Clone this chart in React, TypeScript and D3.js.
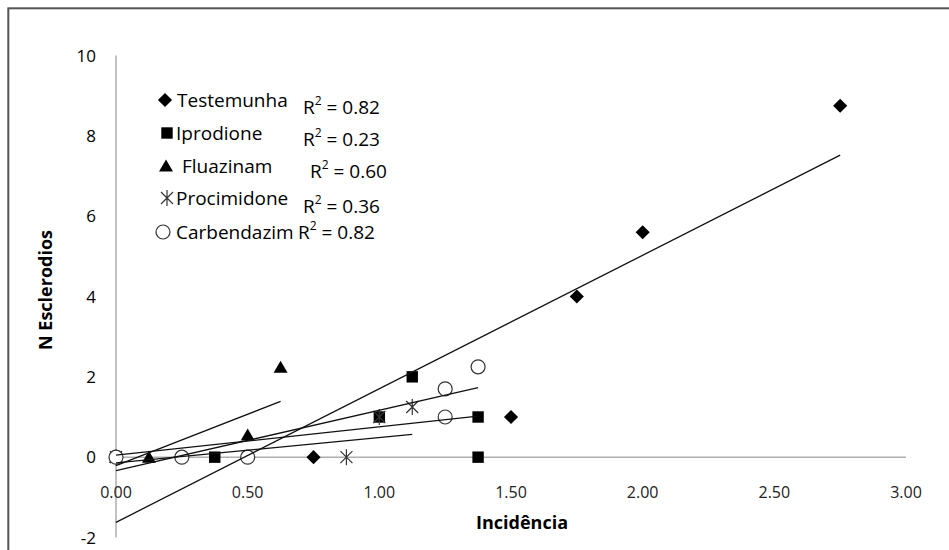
import React, { useRef, useEffect } from 'react';
import * as d3 from 'd3';

// series names and R² values from the legend
const seriesNames = ['Testemunha', 'Iprodione', 'Fluazinam', 'Procimidone', 'Carbendazim'];
const r2Labels = ['0.82', '0.23', '0.60', '0.36', '0.82'];

// points [incidencia, n esclerodios]
const testemunha = [[0, 0], [0.75, 0], [1.5, 1], [1.75, 4], [2.0, 5.6], [2.75, 8.75]];
const iprodione = [[0, 0], [0.375, 0], [1.0, 1], [1.125, 2], [1.375, 1], [1.375, 0]];
const fluazinam = [[0, 0], [0.125, 0], [0.5, 0.55], [0.625, 2.24]];
const procimidone = [[0, 0], [0.875, 0], [1.0, 1], [1.125, 1.25]];
const carbendazim = [[0, 0], [0.25, 0], [0.5, 0], [1.25, 1], [1.25, 1.7], [1.375, 2.25]];

// linear trendlines
const trendSlope = [3.324, 0.706, 2.56, 0.63, 1.505];
const trendIntercept = [-1.622, 0.049, -0.21, -0.14, -0.336];

const xTicks = [0, 0.5, 1, 1.5, 2, 2.5, 3];
const yTicks = [-2, 0, 2, 4, 6, 8, 10];

const allSeries = [testemunha, iprodione, fluazinam, procimidone, carbendazim];
const markerKinds = ['diamond', 'square', 'triangle', 'star', 'circle'];

const FONT = '"Open Sans", "DejaVu Sans", sans-serif';

function drawMarker(g, kind, cx, cy) {
    const m = g.append('g').attr('transform', `translate(${cx},${cy})`);
    if (kind === 'diamond') {
        m.append('path').attr('d', d3.symbol(d3.symbolSquare, 100)()).attr('transform', 'rotate(45)').attr('fill', '#000');
    } else if (kind === 'square') {
        m.append('path').attr('d', d3.symbol(d3.symbolSquare, 130)()).attr('fill', '#000');
    } else if (kind === 'triangle') {
        m.append('path').attr('d', 'M0,-6.5L7,5.5L-7,5.5Z').attr('fill', '#000');
    } else if (kind === 'star') {
        m.append('path').attr('d', 'M-6,-6L6,6M-6,6L6,-6M0,-8L0,8')
            .attr('stroke', '#333').attr('stroke-width', 1.2).attr('fill', 'none');
    } else {
        m.append('circle').attr('r', 7).attr('fill', '#fff').attr('stroke', '#333').attr('stroke-width', 1.2);
    }
}

const App = () => {
    const svgRef = useRef();

    useEffect(() => {
        const svg = d3.select(svgRef.current);
        svg.selectAll('*').remove();

        const x = d3.scaleLinear().domain([0, 3]).range([116, 906]);
        const y = d3.scaleLinear().domain([-2, 10]).range([537.5, 55.5]);

        svg.append('rect').attr('width', 949).attr('height', 550).attr('fill', '#fff');
        // outer frame (right and bottom edges fall outside the picture)
        svg.append('rect')
            .attr('x', 8.3).attr('y', 8.3).attr('width', 960).attr('height', 560)
            .attr('fill', 'none').attr('stroke', '#555').attr('stroke-width', 2);

        // axes
        svg.append('line')
            .attr('x1', x(0)).attr('x2', x(0)).attr('y1', y(10)).attr('y2', y(-2))
            .attr('stroke', '#868686');
        svg.append('line')
            .attr('x1', x(0)).attr('x2', x(3)).attr('y1', y(0)).attr('y2', y(0))
            .attr('stroke', '#868686');

        svg.append('g').selectAll('text').data(yTicks).join('text')
            .attr('x', 96).attr('y', d => y(d)).attr('dy', '0.36em')
            .attr('text-anchor', 'end')
            .attr('font-family', FONT).attr('font-size', 17).attr('fill', '#000')
            .text(d => d);

        svg.append('g').selectAll('text').data(xTicks).join('text')
            .attr('x', d => x(d)).attr('y', 492).attr('dy', '0.36em')
            .attr('text-anchor', 'middle')
            .attr('font-family', FONT).attr('font-size', 16).attr('fill', '#222')
            .text(d => d3.format('.2f')(d));

        svg.append('text')
            .attr('x', 568).attr('y', 523).attr('dy', '0.36em').attr('text-anchor', 'end')
            .attr('font-family', FONT).attr('font-size', 18).attr('font-weight', 'bold')
            .text('Incidência');
        svg.append('text')
            .attr('transform', 'translate(46,290) rotate(-90)').attr('dy', '0.36em').attr('text-anchor', 'middle')
            .attr('font-family', FONT).attr('font-size', 18).attr('font-weight', 'bold')
            .text('N Esclerodios');

        // markers
        allSeries.forEach((pts, i) => {
            const g = svg.append('g');
            pts.forEach(p => drawMarker(g, markerKinds[i], x(p[0]), y(p[1])));
        });

        // trendlines from 0 to the series' max incidencia
        allSeries.forEach((pts, i) => {
            const xMax = d3.max(pts, p => p[0]);
            svg.append('line')
                .attr('x1', x(0)).attr('y1', y(trendIntercept[i]))
                .attr('x2', x(xMax)).attr('y2', y(trendIntercept[i] + trendSlope[i] * xMax))
                .attr('stroke', '#111').attr('stroke-width', 1.3);
        });

        // legend and R² labels (Excel places them a little irregularly)
        const legendY = [100, 133, 166, 198, 232];
        const markerX = [165, 167, 166, 167, 163];
        const nameX = [177, 176, 182, 176, 176];
        const r2Pos = [[303, 107], [303, 139], [310, 171], [303, 206], [298, 232]];
        seriesNames.forEach((name, i) => {
            const lg = svg.append('g');
            drawMarker(lg, markerKinds[i], markerX[i], legendY[i]);
            lg.append('text')
                .attr('x', nameX[i]).attr('y', legendY[i]).attr('dy', '0.36em')
                .attr('font-family', FONT).attr('font-size', 19).attr('fill', '#000')
                .text(name);
            const t = lg.append('text')
                .attr('x', r2Pos[i][0]).attr('y', r2Pos[i][1]).attr('dy', '0.36em')
                .attr('font-family', FONT).attr('font-size', 19).attr('fill', '#000');
            t.append('tspan').text('R');
            t.append('tspan').attr('font-size', 12).attr('dy', '-0.7em').text('2');
            t.append('tspan').attr('dy', '0.45em').text(` = ${r2Labels[i]}`);
        });
    }, []);

    return (
        <svg
            ref={svgRef}
            width={949}
            height={550}
            style={{ position: 'absolute', left: 0, top: 0, display: 'block' }}
        ></svg>
    );
};

export default App;
